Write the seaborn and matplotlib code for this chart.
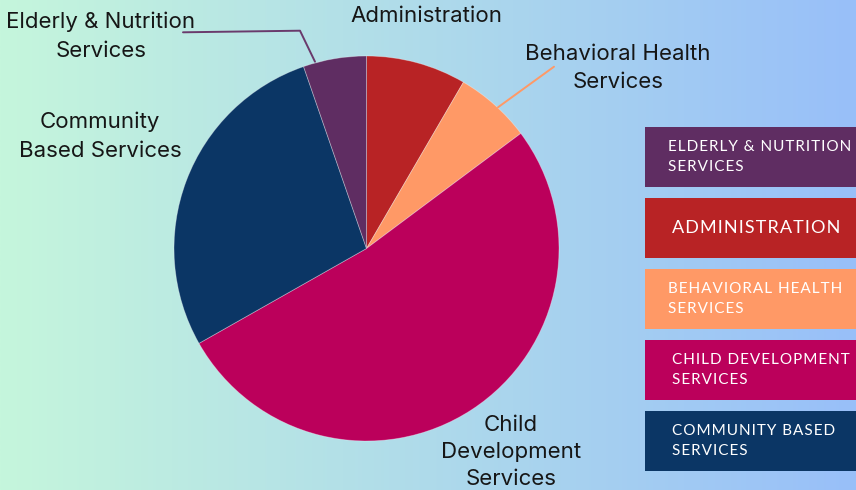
import numpy as np
import matplotlib
matplotlib.use("Agg")
import matplotlib.pyplot as plt
from matplotlib.patches import Rectangle
from matplotlib.colors import to_rgb
import seaborn as sns

# ---- data ----
categories = ["Administration", "Behavioral Health\nServices", "Child\nDevelopment\nServices",
              "Community\nBased Services", "Elderly & Nutrition\nServices"]
shares = [8.4, 6.4, 52.0, 27.9, 5.3]
colors = ["#b82325", "#ff9966", "#bb005b", "#0b3665", "#5f2d62"]
legend_labels = ["ELDERLY & NUTRITION\nSERVICES", "ADMINISTRATION", "BEHAVIORAL HEALTH\nSERVICES",
                 "CHILD DEVELOPMENT\nSERVICES", "COMMUNITY BASED\nSERVICES"]
legend_colors = ["#5f2d62", "#b82325", "#ff9966", "#bb005b", "#0b3665"]

sns.set_style("white")
plt.rcParams['font.family'] = ['Inter', 'DejaVu Sans']

W, H = 856, 490
fig = plt.figure(figsize=(W / 100, H / 100), dpi=100)

# background gradient
bg = fig.add_axes([0, 0, 1, 1], zorder=0)
c0 = np.array(to_rgb("#c5f6dc"))
c1 = np.array(to_rgb("#98bff9"))
t = np.linspace(0, 1, 400)
grad = (c0[None, :] * (1 - t[:, None]) + c1[None, :] * t[:, None])[None, :, :]
bg.imshow(grad, aspect='auto', extent=[0, W, H, 0])
bg.set_axis_off()

# pie
cx, cy, r = 366.5, 248.5, 192.5
pax = fig.add_axes([(cx - r) / W, (H - cy - r) / H, 2 * r / W, 2 * r / H], zorder=1)
pax.patch.set_alpha(0)
wedges, _ = pax.pie(shares, colors=colors, startangle=90, counterclock=False, radius=1,
                    wedgeprops=dict(linewidth=0.6, edgecolor=(1, 1, 1, 0.35)))
pax.set_xlim(-1, 1)
pax.set_ylim(-1, 1)
pax.set_axis_off()

# overlay in pixel coords
ov = fig.add_axes([0, 0, 1, 1], zorder=2)
ov.set_xlim(0, W)
ov.set_ylim(H, 0)
ov.set_axis_off()
ov.patch.set_alpha(0)

label_pos = [(426, 16), (618, 68), (511, 452), (100, 136), (101, 36)]
label_ls = [1.55, 1.55, 1.45, 1.55, 1.55]
txtcol = "#161616"
for lab, (x, y), ls in zip(categories, label_pos, label_ls):
    ov.text(x, y, lab, ha='center', va='center', fontsize=16, color=txtcol,
            linespacing=ls, multialignment='center')

# leader lines
ov.plot([183, 300, 315], [32.3, 30.7, 61.7], color="#6a3a6c", lw=1.4, solid_capstyle='round')
ov.plot([554, 498], [66.7, 107.3], color="#ff9966", lw=1.4, solid_capstyle='round')

# legend boxes
box_tops = [127.3, 198.3, 269.3, 340.0, 411.0]
text_x = [668, 672, 668, 672, 672]
box_h = 59.5
sp = "\u200a"
for lab, col, top, tx in zip(legend_labels, legend_colors, box_tops, text_x):
    ov.add_patch(Rectangle((645, top), 220, box_h, facecolor=col, edgecolor='none'))
    spaced = "\n".join(sp.join(list(line)) for line in lab.split("\n"))
    big = "\n" not in lab
    ov.text(tx, top + box_h / 2, spaced, ha='left', va='center',
            fontsize=13 if big else 11, color="white", linespacing=1.5,
            family=['Lato', 'DejaVu Sans'])

fig.savefig("out.png", dpi=100)
